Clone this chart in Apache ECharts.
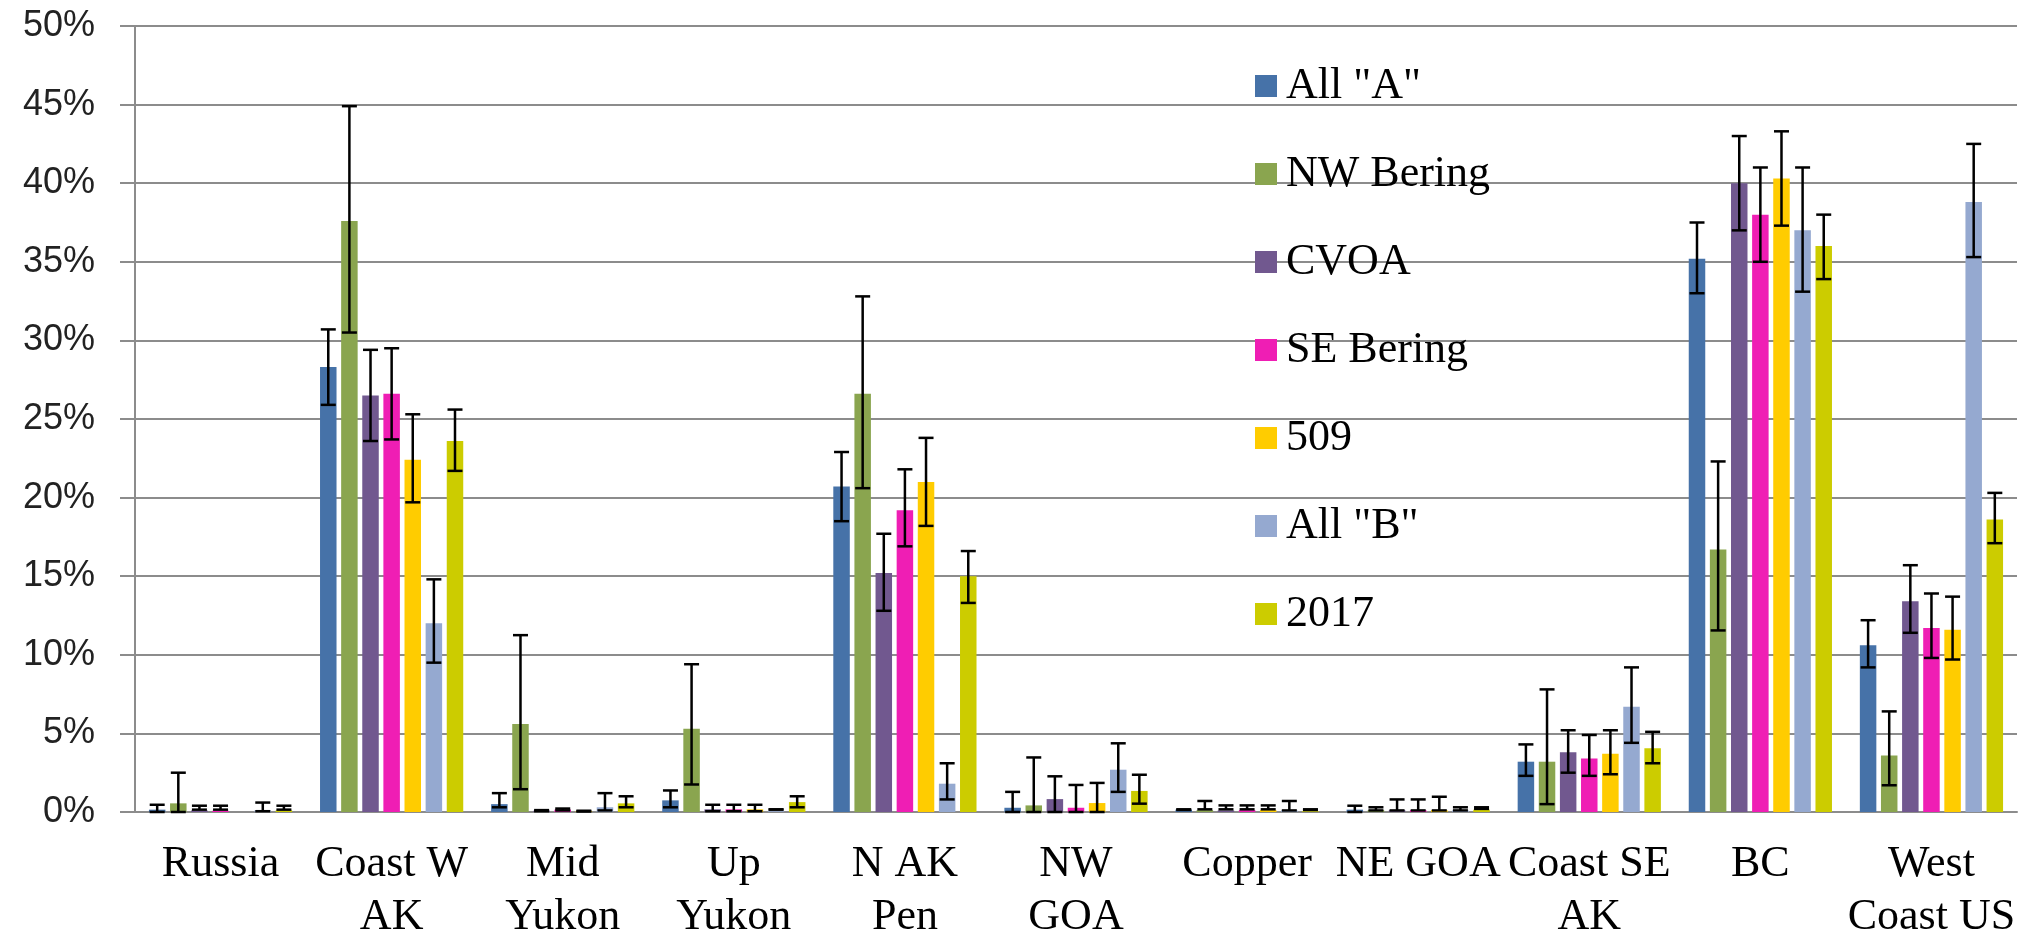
<!DOCTYPE html>
<html>
<head>
<meta charset="utf-8">
<script src="https://cdn.jsdelivr.net/npm/echarts@6/dist/echarts.min.js"></script>
<style>
html,body{margin:0;padding:0;background:#fff;}
#chart{width:2023px;height:944px;}
</style>
</head>
<body>
<div id="chart"></div>
<script>
const categories = ['Russia', 'Coast W\nAK', 'Mid\nYukon', 'Up\nYukon', 'N AK\nPen', 'NW\nGOA', 'Copper', 'NE GOA', 'Coast SE\nAK', 'BC', 'West\nCoast US'];
const seriesNames = ['All "A"', 'NW Bering', 'CVOA', 'SE Bering', '509', 'All "B"', '2017'];
const seriesColors = ['#4672A8', '#8AA54F', '#71588F', '#EF1EB4', '#FFCC00', '#95A9D0', '#CCCC00'];
const yTicks = [0, 5, 10, 15, 20, 25, 30, 35, 40, 45, 50];

// values in percent
const allA      = [0.15, 28.3, 0.5, 0.74, 20.7, 0.27, 0.15, 0.15, 3.2, 35.2, 10.6];
const allAHi    = [0.46, 30.7, 1.2, 1.37, 22.9, 1.28, 0.17, 0.4, 4.3, 37.5, 12.2];
const allALo    = [0, 25.9, 0.3, 0.3, 18.5, 0, 0.13, 0, 2.3, 33.0, 9.2];

const nwBering   = [0.55, 37.6, 5.6, 5.3, 26.6, 0.42, 0.12, 0.12, 3.2, 16.7, 3.6];
const nwBeringHi = [2.5, 44.9, 11.25, 9.4, 32.8, 3.47, 0.7, 0.3, 7.8, 22.3, 6.4];
const nwBeringLo = [0, 30.5, 1.45, 1.75, 20.6, 0, 0.17, 0.1, 0.5, 11.55, 1.7];

const cvoa      = [0.1, 26.5, 0.08, 0.17, 15.2, 0.82, 0.1, 0.12, 3.8, 40.0, 13.4];
const cvoaHi    = [0.4, 29.4, 0.12, 0.46, 17.7, 2.27, 0.42, 0.8, 5.2, 43.0, 15.7];
const cvoaLo    = [0.15, 23.6, 0.05, 0.05, 12.8, 0, 0.17, 0.1, 2.5, 37.0, 11.4];

const seBering   = [0.08, 26.6, 0.15, 0.17, 19.2, 0.27, 0.12, 0.12, 3.4, 38.0, 11.7];
const seBeringHi = [0.4, 29.5, 0.22, 0.46, 21.8, 1.72, 0.42, 0.8, 4.9, 41.0, 13.9];
const seBeringLo = [0.15, 23.7, 0.1, 0.05, 16.9, 0, 0.17, 0.1, 2.3, 35.0, 9.8];

const s509      = [0, 22.4, 0.05, 0.17, 21.0, 0.57, 0.12, 0.12, 3.7, 40.3, 11.6];
const s509Hi    = [null, 25.3, 0.08, 0.46, 23.8, 1.85, 0.42, 0.97, 5.2, 43.3, 13.7];
const s509Lo    = [null, 19.7, 0.03, 0.05, 18.2, 0, 0.17, 0.1, 2.4, 37.3, 9.7];

const allB      = [0.1, 12.0, 0.3, 0.05, 1.8, 2.69, 0.1, 0.1, 6.7, 37.0, 38.8];
const allBHi    = [0.6, 14.8, 1.2, 0.17, 3.1, 4.37, 0.7, 0.3, 9.2, 41.0, 42.5];
const allBLo    = [0.05, 9.5, 0.1, 0.15, 0.8, 1.28, 0.1, 0.1, 4.4, 33.1, 35.3];

const y2017     = [0.1, 23.6, 0.55, 0.63, 15.0, 1.34, 0.05, 0.15, 4.05, 36.0, 18.6];
const y2017Hi   = [0.4, 25.6, 1.0, 1.0, 16.6, 2.37, 0.17, 0.3, 5.1, 38.0, 20.3];
const y2017Lo   = [0.15, 21.7, 0.3, 0.3, 13.3, 0.53, 0.13, 0.2, 3.1, 33.9, 17.1];

const values = [allA, nwBering, cvoa, seBering, s509, allB, y2017];
const highs  = [allAHi, nwBeringHi, cvoaHi, seBeringHi, s509Hi, allBHi, y2017Hi];
const lows   = [allALo, nwBeringLo, cvoaLo, seBeringLo, s509Lo, allBLo, y2017Lo];

const BAR_W = 16.5;
const BAR_GAP = '28%';
const N = seriesNames.length;

const chart = echarts.init(document.getElementById('chart'), null, {renderer: 'canvas'});

const series = [];
seriesNames.forEach((name, i) => {
  series.push({
    name: name,
    type: 'bar',
    data: values[i],
    barWidth: BAR_W,
    barGap: BAR_GAP,
    itemStyle: {color: seriesColors[i]},
    animation: false,
    z: 2
  });
});
seriesNames.forEach((name, i) => {
  const errData = [];
  for (let c = 0; c < categories.length; c++) {
    if (highs[i][c] == null) continue;
    errData.push([c, lows[i][c], highs[i][c]]);
  }
  series.push({
    type: 'custom',
    data: errData,
    z: 10,
    animation: false,
    silent: true,
    encode: {x: 0, y: [1, 2]},
    renderItem: function (params, api) {
      const xv = api.value(0);
      const lo = api.value(1);
      const hi = api.value(2);
      let offset;
      if (api.barLayout) {
        const lay = api.barLayout({barWidth: BAR_W, barGap: BAR_GAP, count: N});
        offset = lay[i].offsetCenter;
      } else {
        const pitch = BAR_W * 1.28;
        offset = (i - (N - 1) / 2) * pitch;
      }
      const pHi = api.coord([xv, hi]);
      const pLo = api.coord([xv, lo]);
      const x = pHi[0] + offset;
      const hw = 7.5;
      const style = {stroke: '#000', lineWidth: 2.5, fill: null};
      return {
        type: 'group',
        children: [
          {type: 'line', shape: {x1: x, y1: pHi[1], x2: x, y2: pLo[1]}, style: style},
          {type: 'line', shape: {x1: x - hw, y1: pHi[1], x2: x + hw, y2: pHi[1]}, style: style},
          {type: 'line', shape: {x1: x - hw, y1: pLo[1], x2: x + hw, y2: pLo[1]}, style: style}
        ]
      };
    }
  });
});

const option = {
  backgroundColor: '#fff',
  animation: false,
  grid: {left: 135, right: 6, top: 26, bottom: 124, containLabel: false},
  legend: {
    orient: 'vertical',
    left: 1250,
    top: 59,
    itemWidth: 22,
    itemHeight: 22,
    itemGap: 44,
    icon: 'rect',
    data: seriesNames,
    textStyle: {
      fontFamily: '"Liberation Serif", "Times New Roman", serif',
      fontSize: 44,
      lineHeight: 44,
      color: '#000',
      padding: [0, 0, 0, 4]
    }
  },
  xAxis: {
    type: 'category',
    data: categories,
    axisLine: {show: true, lineStyle: {color: '#8c8c8c', width: 2}},
    axisTick: {show: false},
    axisLabel: {
      interval: 0,
      margin: 26,
      fontFamily: '"Liberation Serif", "Times New Roman", serif',
      fontSize: 44,
      lineHeight: 53,
      color: '#000'
    }
  },
  yAxis: {
    type: 'value',
    min: yTicks[0],
    max: yTicks[yTicks.length - 1],
    interval: 5,
    axisLine: {show: true, lineStyle: {color: '#8c8c8c', width: 2}},
    axisTick: {show: true, length: 15, lineStyle: {color: '#8c8c8c', width: 2}},
    splitLine: {show: true, lineStyle: {color: '#8c8c8c', width: 2}},
    axisLabel: {
      margin: 40,
      formatter: '{value}%',
      fontFamily: '"Liberation Sans", Arial, sans-serif',
      fontSize: 36,
      color: '#222'
    }
  },
  series: series
};
chart.setOption(option);
</script>
</body>
</html>
